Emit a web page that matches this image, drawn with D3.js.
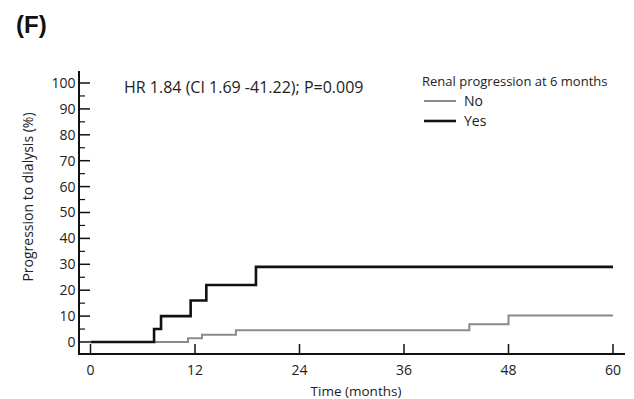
<!DOCTYPE html>
<html>
<head>
<meta charset="utf-8">
<script src="https://cdn.jsdelivr.net/npm/d3@7"></script>
<style>
  body { margin: 0; background: #fff; }
  text { font-family: "Open Sans", "Liberation Sans", sans-serif; fill: #222; }
</style>
</head>
<body>
<svg id="chart" width="634" height="399"></svg>
<script>
// step data: [month, cumulative %]
const yesSteps = [[0, 0], [7.3, 5], [8.1, 10], [11.5, 16], [13.3, 22], [19.0, 29], [60, 29]];
const noSteps = [[0, 0], [11.2, 1.4], [12.8, 2.8], [16.7, 4.5], [43.5, 6.9], [48.0, 10.2], [60, 10.2]];
const xTicks = [0, 12, 24, 36, 48, 60];
const yTicks = [0, 10, 20, 30, 40, 50, 60, 70, 80, 90, 100];
const yMinor = [5, 15, 25, 35, 45, 55, 65, 75, 85, 95];
const legendItems = [
    { label: "No", color: "#8a8a8a", width: 2 },
    { label: "Yes", color: "#111", width: 2.6 }
];

const svg = d3.select("#chart");

const x = d3.scaleLinear().domain([0, 60]).range([90.5, 613]);
const y = d3.scaleLinear().domain([0, 100]).range([342, 83]);

const axisX0 = 79, axisY0 = 354;

// panel letter
svg.append("text")
    .attr("x", 16).attr("y", 33)
    .style("font-family", "'Liberation Sans', Arial, sans-serif")
    .style("font-weight", "bold")
    .style("font-size", "24px")
    .style("fill", "#111")
    .text("(F)");

// y axis
const gy = svg.append("g").attr("class", "y-axis");
gy.append("line")
    .attr("x1", axisX0).attr("x2", axisX0)
    .attr("y1", 71).attr("y2", axisY0)
    .attr("stroke", "#111").attr("stroke-width", 2);

gy.selectAll(".major").data(yTicks).enter().append("line")
    .attr("x1", axisX0).attr("x2", axisX0 + 11)
    .attr("y1", d => y(d)).attr("y2", d => y(d))
    .attr("stroke", "#111").attr("stroke-width", 1.5);

gy.selectAll(".minor").data(yMinor).enter().append("line")
    .attr("x1", axisX0).attr("x2", axisX0 + 6)
    .attr("y1", d => y(d)).attr("y2", d => y(d))
    .attr("stroke", "#111").attr("stroke-width", 1.2);

gy.selectAll("text").data(yTicks).enter().append("text")
    .attr("x", 75.5).attr("y", d => y(d))
    .attr("dy", "0.35em")
    .attr("text-anchor", "end")
    .style("font-size", "14px")
    .text(d => d);

// x axis
const gx = svg.append("g").attr("class", "x-axis");
gx.append("line")
    .attr("x1", axisX0 - 1).attr("x2", 625)
    .attr("y1", axisY0).attr("y2", axisY0)
    .attr("stroke", "#111").attr("stroke-width", 2);

gx.selectAll(".tick").data(xTicks).enter().append("line")
    .attr("x1", d => x(d)).attr("x2", d => x(d))
    .attr("y1", axisY0).attr("y2", axisY0 - 10)
    .attr("stroke", "#111").attr("stroke-width", 1.5);

gx.selectAll("text").data(xTicks).enter().append("text")
    .attr("x", d => x(d)).attr("y", 375)
    .attr("text-anchor", "middle")
    .style("font-size", "14px")
    .text(d => d);

svg.append("text")
    .attr("x", 356).attr("y", 396)
    .attr("text-anchor", "middle")
    .style("font-size", "13.5px")
    .text("Time (months)");

svg.append("text")
    .attr("transform", "translate(33,197) rotate(-90)")
    .attr("text-anchor", "middle")
    .style("font-size", "14px")
    .text("Progression to dialysis (%)");

// curves
const stepLine = d3.line()
    .x(d => x(d[0]))
    .y(d => y(d[1]))
    .curve(d3.curveStepAfter);

svg.append("path")
    .datum(noSteps)
    .attr("fill", "none")
    .attr("stroke", legendItems[0].color)
    .attr("stroke-width", legendItems[0].width)
    .attr("d", stepLine);

svg.append("path")
    .datum(yesSteps)
    .attr("fill", "none")
    .attr("stroke", legendItems[1].color)
    .attr("stroke-width", legendItems[1].width)
    .attr("d", stepLine);

// annotation
svg.append("text")
    .attr("x", 124).attr("y", 93)
    .style("font-size", "16px")
    .text("HR 1.84 (CI 1.69 -41.22); P=0.009");

// legend
const legend = svg.append("g").attr("transform", "translate(422,86)");
legend.append("text")
    .attr("x", 0).attr("y", 0)
    .style("font-size", "13px")
    .text("Renal progression at 6 months");

const rows = legend.selectAll(".row").data(legendItems).enter().append("g")
    .attr("transform", (d, i) => `translate(0,${15 + i * 20})`);
rows.append("line")
    .attr("x1", 2).attr("x2", 34).attr("y1", 0).attr("y2", 0)
    .attr("stroke", d => d.color)
    .attr("stroke-width", d => d.width);
rows.append("text")
    .attr("x", 42).attr("y", 0).attr("dy", "0.35em")
    .style("font-size", "14px")
    .text(d => d.label);
</script>
</body>
</html>
